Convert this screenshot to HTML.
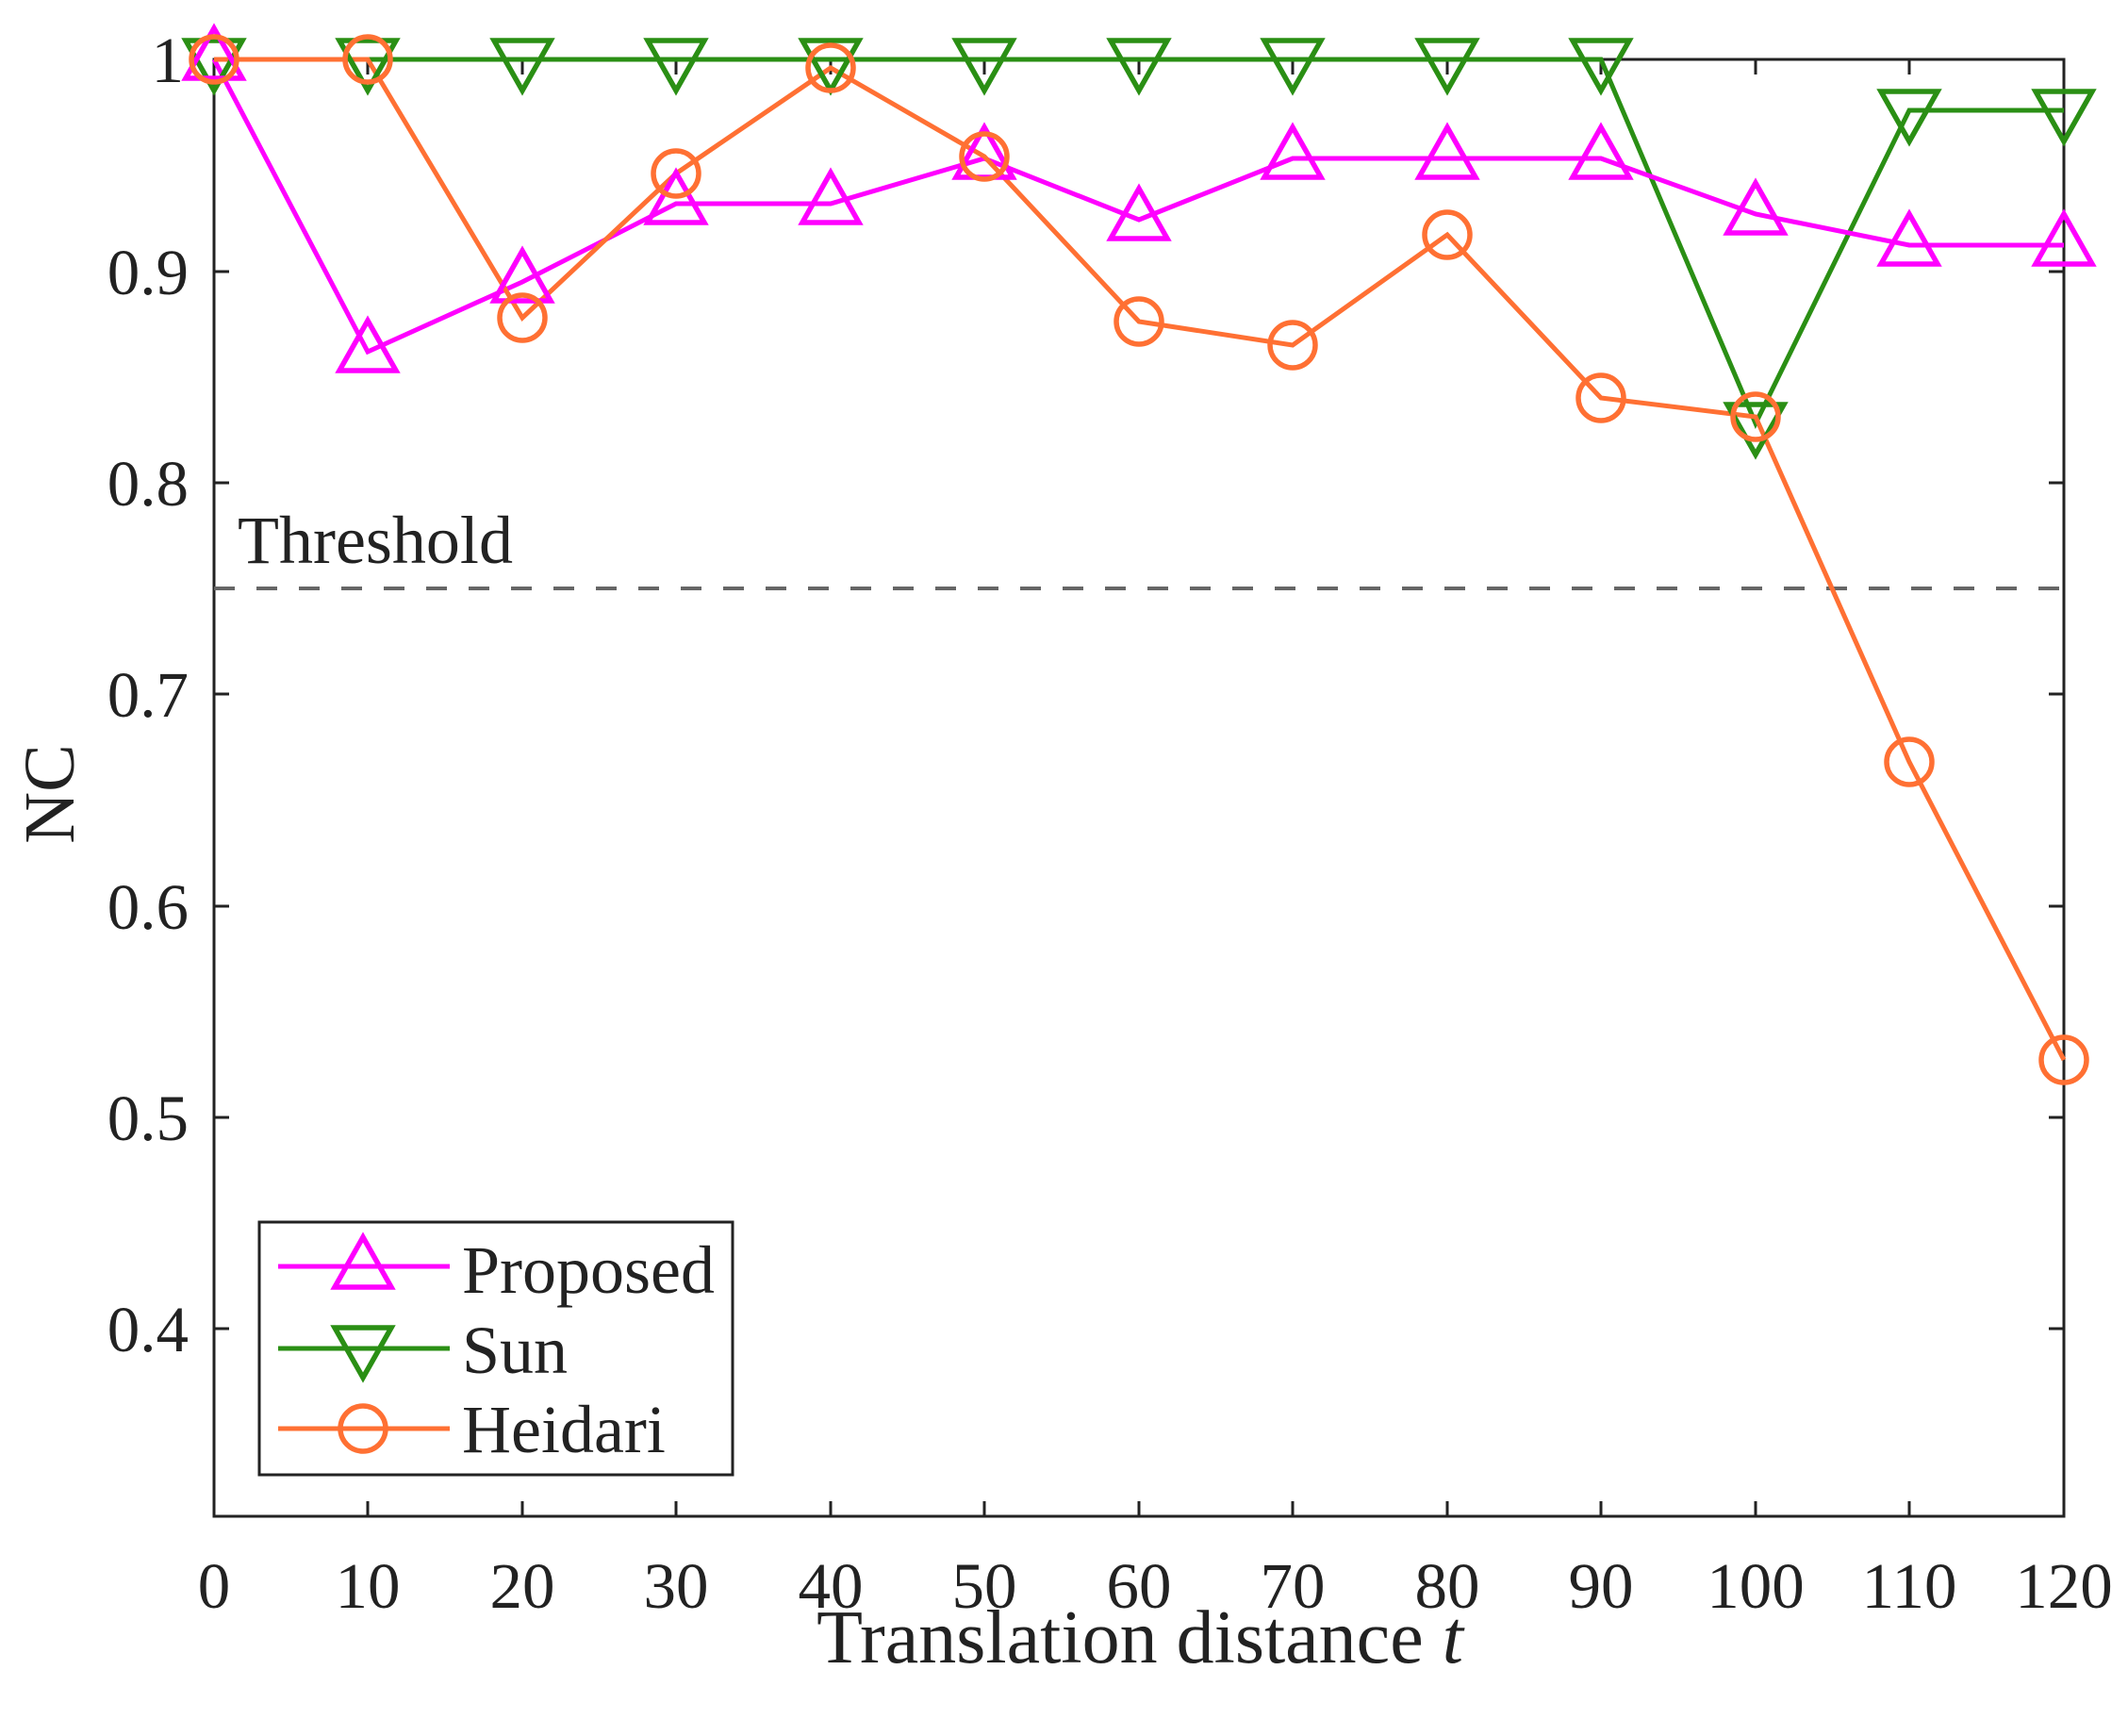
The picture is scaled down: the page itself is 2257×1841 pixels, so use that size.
<!DOCTYPE html>
<html><head><meta charset="utf-8"><style>
html,body{margin:0;padding:0;background:#fff}
svg{display:block}
text{font-family:"Liberation Serif",serif;fill:#222}
</style></head><body>
<svg width="2257" height="1841" viewBox="0 0 2257 1841" xmlns="http://www.w3.org/2000/svg">
<defs>
<g id="tu"><polygon points="0,-33 30,20 -30,20" fill="none" stroke="#ff00ff" stroke-width="5.5"/></g>
<g id="td"><polygon points="0,33 30,-20 -30,-20" fill="none" stroke="#2a8f14" stroke-width="5.5"/></g>
<g id="ci"><circle r="24" fill="none" stroke="#ff7033" stroke-width="5.5"/></g>
</defs>
<rect x="227" y="63" width="1962" height="1545" fill="none" stroke="#222" stroke-width="3"/>
<g stroke="#222" stroke-width="3">
<path d="M390,1608v-16M554,1608v-16M717,1608v-16M881,1608v-16M1044,1608v-16M1208,1608v-16M1371,1608v-16M1535,1608v-16M1698,1608v-16M1862,1608v-16M2025,1608v-16
M390,63v16M554,63v16M717,63v16M881,63v16M1044,63v16M1208,63v16M1371,63v16M1535,63v16M1698,63v16M1862,63v16M2025,63v16"/>
<path d="M227,288h16M227,512h16M227,736h16M227,961h16M227,1185h16M227,1409h16
M2189,288h-16M2189,512h-16M2189,736h-16M2189,961h-16M2189,1185h-16M2189,1409h-16"/>
</g>
<g font-size="69" text-anchor="middle">
<text x="227" y="1705">0</text><text x="390" y="1705">10</text><text x="554" y="1705">20</text><text x="717" y="1705">30</text><text x="881" y="1705">40</text><text x="1044" y="1705">50</text><text x="1208" y="1705">60</text><text x="1371" y="1705">70</text><text x="1535" y="1705">80</text><text x="1698" y="1705">90</text><text x="1862" y="1705">100</text><text x="2025" y="1705">110</text><text x="2189" y="1705">120</text>
</g>
<g font-size="69" text-anchor="end">
<text x="195" y="87">1</text><text x="200" y="312">0.9</text><text x="200" y="536">0.8</text><text x="200" y="760">0.7</text><text x="200" y="985">0.6</text><text x="200" y="1209">0.5</text><text x="200" y="1433">0.4</text>
</g>
<text x="1209" y="1763" font-size="80" text-anchor="middle">Translation distance <tspan font-style="italic">t</tspan></text>
<text transform="translate(78,842) rotate(-90)" font-size="76" text-anchor="middle">NC</text>
<line x1="227" y1="624" x2="2189" y2="624" stroke="#666" stroke-width="4" stroke-dasharray="22,23"/>
<text x="252" y="597" font-size="72">Threshold</text>
<polyline fill="none" stroke="#2a8f14" stroke-width="5" points="227,63 390,63 554,63 717,63 881,63 1044,63 1208,63 1371,63 1535,63 1698,63 1862,449 2025,117 2189,117"/>
<polyline fill="none" stroke="#ff00ff" stroke-width="5" points="227,63 390,373 554,299 717,216 881,216 1044,168 1208,233 1371,168 1535,168 1698,168 1862,227 2025,260 2189,260"/>
<polyline fill="none" stroke="#ff7033" stroke-width="5" points="227,63 390,63 554,337 717,184 881,72 1044,166 1208,341 1371,366 1535,249 1698,422 1862,442 2025,808 2189,1124"/>
<g>
<use href="#td" x="227" y="63"/><use href="#td" x="390" y="63"/><use href="#td" x="554" y="63"/><use href="#td" x="717" y="63"/><use href="#td" x="881" y="63"/><use href="#td" x="1044" y="63"/><use href="#td" x="1208" y="63"/><use href="#td" x="1371" y="63"/><use href="#td" x="1535" y="63"/><use href="#td" x="1698" y="63"/><use href="#td" x="1862" y="449"/><use href="#td" x="2025" y="117"/><use href="#td" x="2189" y="117"/>
<use href="#tu" x="227" y="63"/><use href="#tu" x="390" y="373"/><use href="#tu" x="554" y="299"/><use href="#tu" x="717" y="216"/><use href="#tu" x="881" y="216"/><use href="#tu" x="1044" y="168"/><use href="#tu" x="1208" y="233"/><use href="#tu" x="1371" y="168"/><use href="#tu" x="1535" y="168"/><use href="#tu" x="1698" y="168"/><use href="#tu" x="1862" y="227"/><use href="#tu" x="2025" y="260"/><use href="#tu" x="2189" y="260"/>
<use href="#ci" x="227" y="63"/><use href="#ci" x="390" y="63"/><use href="#ci" x="554" y="337"/><use href="#ci" x="717" y="184"/><use href="#ci" x="881" y="72"/><use href="#ci" x="1044" y="166"/><use href="#ci" x="1208" y="341"/><use href="#ci" x="1371" y="366"/><use href="#ci" x="1535" y="249"/><use href="#ci" x="1698" y="422"/><use href="#ci" x="1862" y="442"/><use href="#ci" x="2025" y="808"/><use href="#ci" x="2189" y="1124"/>
</g>
<rect x="275" y="1296" width="502" height="268" fill="#fff" stroke="#222" stroke-width="3"/>
<line x1="295" y1="1343" x2="477" y2="1343" stroke="#ff00ff" stroke-width="5"/>
<use href="#tu" x="385" y="1345"/>
<line x1="295" y1="1430" x2="477" y2="1430" stroke="#2a8f14" stroke-width="5"/>
<use href="#td" x="385" y="1428"/>
<line x1="295" y1="1515" x2="477" y2="1515" stroke="#ff7033" stroke-width="5"/>
<use href="#ci" x="385" y="1515"/>
<g font-size="72">
<text x="490" y="1371">Proposed</text>
<text x="490" y="1456">Sun</text>
<text x="490" y="1540">Heidari</text>
</g>
</svg>
</body></html>
